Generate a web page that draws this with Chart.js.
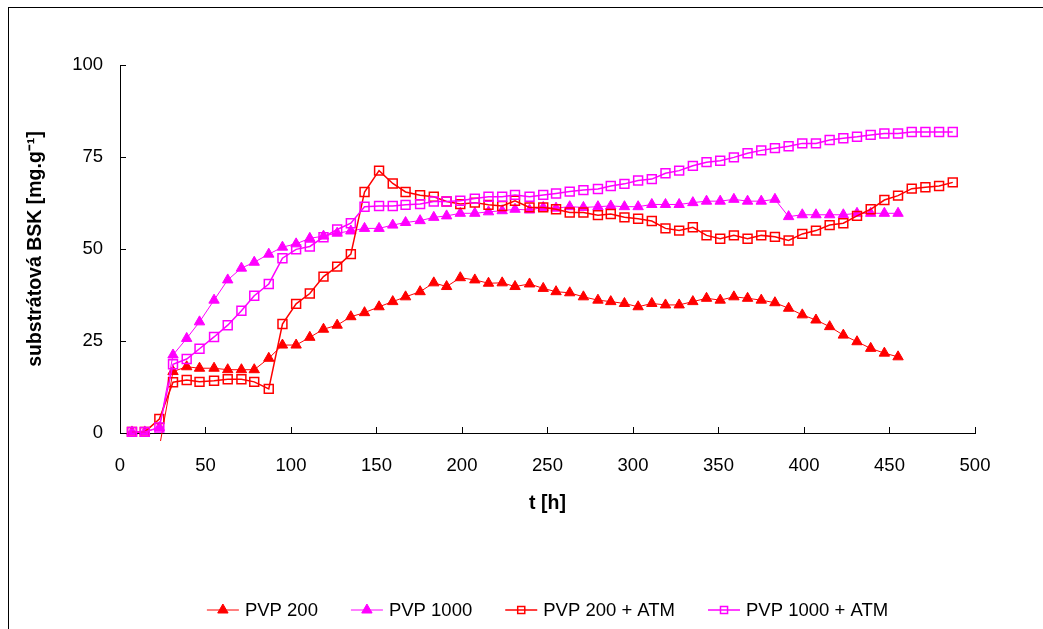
<!DOCTYPE html>
<html>
<head>
<meta charset="utf-8">
<title>substrátová BSK</title>
<script src="https://cdn.jsdelivr.net/npm/chart.js@4/dist/chart.umd.min.js"></script>
<style>
  html, body { margin: 0; padding: 0; background: #fff; }
  #wrap { width: 1043px; height: 629px; }
</style>
</head>
<body>
<div id="wrap"><canvas id="myChart" width="1043" height="629"></canvas></div>
<script>
// sampling times [h]
var times = [7, 14.5, 23, 31, 39, 46.5, 55, 63, 71, 78.5,
  87, 95, 103, 111, 119, 127, 135, 143, 151.5, 159.5,
  167, 175.5, 183.5, 191, 199, 207.5, 215.5, 223.5, 231, 239.5,
  247.5, 255, 263, 271, 279.5, 287, 295, 303, 311, 319,
  327, 335, 343, 351, 359, 367, 375, 383, 391, 399,
  407, 415, 423, 431, 439, 447, 455, 463, 471, 479, 487]

var pvp200 = [null, null, -4, 16.7, 18, 17.6, 17.6, 17.2, 17.2, 17.2,
  20.3, 23.9, 23.9, 26, 28.2, 29.3, 31.6, 32.7, 34.3, 35.7,
  37, 38.4, 40.8, 39.8, 42.2, 41.6, 40.7, 40.8, 39.8, 40.5,
  39.3, 38.4, 38.1, 37, 36.1, 35.7, 35.2, 34.3, 35.2, 34.8,
  34.8, 35.7, 36.6, 36.1, 37, 36.6, 36.1, 35.4, 33.9, 32.1,
  30.7, 28.9, 26.6, 24.8, 23, 21.7, 20.7, null, null, null, null]

var pvp1000 = [0.3, 0.3, 1.5, 21.2, 25.7, 30.2, 36.1, 41.6, 44.8, 46.4,
  48.6, 50.5, 51.4, 52.9, 53.5, 54.3, 54.9, 55.6, 55.6, 56.5,
  57.2, 57.7, 58.6, 59, 59.7, 59.7, 60.1, 60.4, 60.8, 60.6,
  61.3, 61.1, 61.5, 61.3, 61.5, 61.7, 61.5, 61.5, 62.1, 62.1,
  62.1, 62.6, 63, 63, 63.5, 63, 63, 63.5, 58.8, 59.3,
  59.3, 59.3, 59.3, 59.7, 59.7, 59.7, 59.7, null, null, null, null]

var pvp200atm = [0.3, 0.3, 3.8, 13.8, 14.4, 13.9, 14.2, 14.6, 14.6, 13.9,
  12, 29.6, 35.1, 37.9, 42.5, 45.2, 48.6, 65.5, 71.3, 67.8,
  65.5, 64.6, 64.2, 62.9, 62.2, 62.6, 62, 61.7, 63.1, 61.3,
  61.3, 60.8, 59.9, 59.9, 59.2, 59.5, 58.6, 58.2, 57.6, 55.6,
  55, 55.9, 53.7, 52.8, 53.7, 52.8, 53.7, 53.3, 52.3, 54.1,
  55, 56.5, 57, 59, 60.8, 63.3, 64.5, 66.4, 66.8, 67.1, 68.1]

var pvp1000atm = [0.3, 0.3, 1.5, 18.7, 20.1, 22.9, 26.1, 29.3, 33.2, 37.3,
  40.5, 47.5, 49.9, 50.7, 53.2, 55.3, 57, 61.5, 61.7, 61.7,
  62, 62.2, 62.9, 62.9, 63.1, 63.7, 64.2, 64.2, 64.7, 64.2,
  64.7, 65.1, 65.6, 66, 66.3, 67.1, 67.7, 68.6, 69, 70.6,
  71.3, 72.6, 73.6, 74, 74.9, 76, 76.8, 77.4, 77.9, 78.7,
  78.7, 79.6, 80.1, 80.5, 81, 81.4, 81.4, 81.8, 81.8, 81.8, 81.8]

var seriesNames = ['PVP 200', 'PVP 1000', 'PVP 200 + ATM', 'PVP 1000 + ATM']
var xTicks = [0, 50, 100, 150, 200, 250, 300, 350, 400, 450, 500]
var yTicks = [0, 25, 50, 75, 100]

var RED = '#ff0000'
var MAGENTA = '#ff00ff'
var FONT = "'Liberation Sans', Arial, sans-serif"

function toPoints(values) {
  return values.map(function(v, i) { return { x: times[i], y: v } })
}

function series(label, values, color, style, order) {
  var tri = style === 'triangle'
  return {
    label: label,
    data: toPoints(values),
    borderColor: color,
    borderWidth: tri ? 1 : 1.5,
    backgroundColor: color,
    pointStyle: style,
    pointRadius: tri ? 6 : 6.3,
    pointHoverRadius: tri ? 6 : 6.3,
    pointBackgroundColor: tri ? color : 'rgba(0,0,0,0)',
    pointBorderColor: color,
    pointBorderWidth: tri ? 1 : 1.5,
    tension: 0,
    spanGaps: false,
    order: order,
    clip: { left: 0, top: 5, right: 5, bottom: 8 }
  }
}

// frame round the chart + legend at the bottom
var framePlugin = {
  id: 'frame',
  afterDraw: function(chart) {
    var ctx = chart.ctx
    ctx.save()
    ctx.strokeStyle = '#000'
    ctx.lineWidth = 1
    ctx.strokeRect(8.5, 7.5, 1100, 700)

    var sets = chart.data.datasets
    ctx.font = '18.5px ' + FONT
    ctx.textBaseline = 'middle'
    var lineLen = 32, gap = 6, itemGap = 33
    var total = 0
    sets.forEach(function(ds, i) {
      total += lineLen + gap + ctx.measureText(ds.label).width
      if (i < sets.length - 1) total += itemGap
    })
    var x = 547.5 - total / 2
    var y = 610
    sets.forEach(function(ds) {
      ctx.strokeStyle = ds.borderColor
      ctx.lineWidth = ds.borderWidth
      ctx.beginPath()
      ctx.moveTo(x, y)
      ctx.lineTo(x + lineLen, y)
      ctx.stroke()
      var mx = x + lineLen / 2
      ctx.fillStyle = ds.pointBackgroundColor
      ctx.lineWidth = ds.pointBorderWidth
      ctx.strokeStyle = ds.pointBorderColor
      Chart.helpers.drawPoint(ctx, { pointStyle: ds.pointStyle, radius: ds.pointStyle === 'triangle' ? 6 : 5, borderWidth: ds.pointBorderWidth, rotation: 0 }, mx, y)
      ctx.fillStyle = '#000'
      ctx.textAlign = 'left'
      ctx.fillText(ds.label, x + lineLen + gap, y + 1)
      x += lineLen + gap + ctx.measureText(ds.label).width + itemGap
    })
    ctx.restore()
  }
}

var ctx = document.getElementById('myChart').getContext('2d')

var chart = new Chart(ctx, {
  type: 'line',
  data: {
    datasets: [
      series(seriesNames[0], pvp200, RED, 'triangle', 4),
      series(seriesNames[1], pvp1000, MAGENTA, 'triangle', 3),
      series(seriesNames[2], pvp200atm, RED, 'rect', 2),
      series(seriesNames[3], pvp1000atm, MAGENTA, 'rect', 1)
    ]
  },
  options: {
    responsive: false,
    animation: false,
    devicePixelRatio: 1,
    layout: { padding: { left: 24, right: 68, top: 65, bottom: 114 } },
    plugins: {
      legend: { display: false },
      tooltip: { enabled: false }
    },
    scales: {
      x: {
        type: 'linear',
        min: 0,
        max: 500,
        afterBuildTicks: function(scale) { scale.ticks = xTicks.map(function(v) { return { value: v } }) },
        afterFit: function(scale) { scale.height = 82 },
        grid: { drawOnChartArea: false, drawTicks: true, tickLength: -6, color: '#000', lineWidth: 1 },
        border: { display: true, color: '#000', width: 1 },
        ticks: { color: '#000', font: { family: FONT, size: 18.5 }, padding: 28, maxRotation: 0 },
        title: { display: true, text: 't [h]', color: '#000', font: { family: FONT, size: 19.5, weight: 'bold' }, padding: 0 }
      },
      y: {
        type: 'linear',
        min: 0,
        max: 100,
        afterBuildTicks: function(scale) { scale.ticks = yTicks.map(function(v) { return { value: v } }) },
        afterFit: function(scale) { scale.width = 96 },
        grid: { drawOnChartArea: false, drawTicks: true, tickLength: -6, color: '#000', lineWidth: 1 },
        border: { display: true, color: '#000', width: 1 },
        ticks: { color: '#000', font: { family: FONT, size: 18.5 }, padding: 23 },
        title: { display: true, text: 'substrátová BSK [mg.g⁻¹]', color: '#000', font: { family: FONT, size: 19.5, weight: 'bold' }, padding: 0 }
      }
    }
  },
  plugins: [framePlugin]
})
</script>
</body>
</html>
